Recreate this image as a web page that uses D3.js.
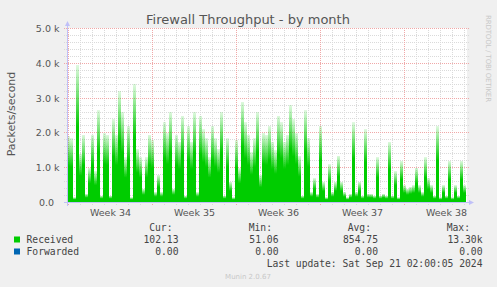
<!DOCTYPE html>
<html>
<head>
<meta charset="utf-8">
<script src="https://cdn.jsdelivr.net/npm/d3@7"></script>
<style>
body{margin:0;background:#f0f0f0;}
text{font-family:"DejaVu Sans",sans-serif;}
.mono{font-family:"DejaVu Sans Mono",monospace;}
</style>
</head>
<body>
<div id="chart"></div>
<script>
//variables
//received packets/second, one value every 6 hours starting Aug 18 21:00
var received = [1900, 1850, 150, 3950, 1400, 1950, 250, 1000, 1950, 900,
    2650, 200, 2000, 1950, 200, 2400, 1950, 3200, 2600, 1300,
    2200, 150, 3400, 1550, 1300, 400, 1300, 1950, 1800, 300,
    800, 300, 2300, 2000, 2600, 400, 1950, 1750, 2500, 200,
    2200, 1750, 2600, 300, 2500, 2100, 1850, 1300, 2200, 1850,
    1550, 2600, 200, 1850, 600, 150, 1800, 1000, 2900, 2300,
    1950, 1450, 1850, 2600, 800, 2000, 1950, 2200, 1750, 1500,
    2500, 2300, 1750, 1950, 2800, 2400, 2000, 1350, 200, 2650,
    1850, 300, 700, 250, 2200, 600, 150, 1100, 300, 600,
    1350, 600, 300, 150, 250, 2300, 300, 600, 200, 2100,
    250, 250, 200, 1300, 200, 250, 200, 1750, 200, 900,
    150, 1200, 500, 400, 450, 500, 1000, 500, 300, 1300,
    700, 500, 200, 2200, 150, 500, 200, 1200, 150, 500,
    200, 1200, 500];
var forwarded = [0, 0];
var sampleHours = 6;
var yTicks = [0, 1000, 2000, 3000, 4000, 5000];
var yTickLabels = ["0.0", "1.0 k", "2.0 k", "3.0 k", "4.0 k", "5.0 k"];
var weekLabels = ["Week 34", "Week 35", "Week 36", "Week 37", "Week 38"];
var legendNames = ["Received", "Forwarded"];
var legendColors = ["#00cc00", "#0066b3"];
var legendCur = ["102.13", "0.00"];
var legendMin = ["51.06", "0.00"];
var legendAvg = ["854.75", "0.00"];
var legendMax = ["13.30k", "0.00"];

var width = 497, height = 287;
var start = new Date(2024, 7, 18, 21), end = new Date(2024, 8, 21, 5);

var svg = d3.select("#chart").append("svg").attr("width", width).attr("height", height);
svg.append("rect").attr("width", width).attr("height", height).attr("fill", "#f0f0f0");
svg.append("rect").attr("x", 67).attr("y", 28).attr("width", 400).attr("height", 175).attr("fill", "#fff");

//scales
var x = d3.scaleTime().domain([start, end]).range([67, 467]);
var y = d3.scaleLinear().domain([0, 5000]).range([202.5, 28.5]);
function py(v){ return Math.round(y(v) - 0.5) + 0.5; }

//gradient for the spikes (tops fade out like rrdtool antialiasing)
var grad = svg.append("defs").append("linearGradient").attr("id", "fade")
    .attr("x1", 0).attr("y1", 1).attr("x2", 0).attr("y2", 0);
grad.append("stop").attr("offset", "0").attr("stop-color", "#00cc00");
grad.append("stop").attr("offset", "0.55").attr("stop-color", "#00cc00");
grad.append("stop").attr("offset", "1").attr("stop-color", "#00cc00").attr("stop-opacity", 0.12);

//grid
var grid = svg.append("g").attr("shape-rendering", "crispEdges");
var minorColor = "#dadada", majorColor = "#f0a8a8";
var minorY = d3.range(0, 5001, 200).filter(function(v){ return v % 1000 != 0; });
grid.selectAll(".hmin").data(minorY).enter().append("line")
    .attr("x1", 64).attr("x2", 469)
    .attr("y1", py).attr("y2", py)
    .attr("stroke", minorColor).attr("stroke-dasharray", "1,1");
var days = d3.timeDay.range(start, end).filter(function(d){ return d.getDay() != 1; });
grid.selectAll(".vmin").data(days).enter().append("line")
    .attr("x1", function(d){ return Math.round(x(d) - 0.5) + 0.5; })
    .attr("x2", function(d){ return Math.round(x(d) - 0.5) + 0.5; })
    .attr("y1", 28).attr("y2", 205)
    .attr("stroke", minorColor).attr("stroke-dasharray", "1,1");
grid.selectAll(".hmaj").data(yTicks.slice(1)).enter().append("line")
    .attr("x1", 64).attr("x2", 469)
    .attr("y1", py).attr("y2", py)
    .attr("stroke", majorColor).attr("stroke-dasharray", "1,1");
var mondays = d3.timeMonday.range(start, end);
grid.selectAll(".vmaj").data(mondays).enter().append("line")
    .attr("x1", function(d){ return Math.round(x(d) - 0.5) + 0.5; })
    .attr("x2", function(d){ return Math.round(x(d) - 0.5) + 0.5; })
    .attr("y1", 28).attr("y2", 206)
    .attr("stroke", majorColor).attr("stroke-dasharray", "1,1");

//received spikes
svg.append("g").attr("shape-rendering", "crispEdges")
    .selectAll("rect").data(received).enter().append("rect")
    .attr("x", function(d, i){ return x(d3.timeHour.offset(start, i * sampleHours)); })
    .attr("width", function(d, i){
        return x(d3.timeHour.offset(start, (i + 1) * sampleHours)) - x(d3.timeHour.offset(start, i * sampleHours));
    })
    .attr("y", function(d){ return y(d); })
    .attr("height", function(d){ return y(0) - y(d); })
    .attr("fill", "url(#fade)");

//forwarded line (all zero)
svg.append("path").datum(forwarded)
    .attr("d", d3.line()
        .x(function(d, i){ return i == 0 ? x(start) : x(end); })
        .y(function(d){ return py(d); }))
    .attr("stroke", "#0066b3").attr("fill", "none");

//axes
var axisColor = "#c0c0f8";
svg.append("line").attr("x1", 64).attr("x2", 470).attr("y1", 202.5).attr("y2", 202.5)
    .attr("stroke", axisColor).attr("shape-rendering", "crispEdges");
svg.append("path").attr("d", "M469,200L474,202.5L469,205Z").attr("fill", axisColor);
svg.append("line").attr("x1", 67.5).attr("x2", 67.5).attr("y1", 206).attr("y2", 25)
    .attr("stroke", axisColor).attr("shape-rendering", "crispEdges");
svg.append("path").attr("d", "M65,26L67.5,21L70,26Z").attr("fill", axisColor);

//y labels
svg.selectAll(".ylab").data(yTicks).enter().append("text")
    .attr("x", function(d){ return d == 0 ? 54 : 59.5; })
    .attr("y", function(d){ return py(d) + 3.5; })
    .attr("text-anchor", "end")
    .attr("font-size", "9.5px").attr("fill", "#555")
    .text(function(d, i){ return yTickLabels[i]; });

//week labels, centered on each week
svg.selectAll(".xlab").data(mondays).enter().append("text")
    .attr("x", function(d){ return x(d3.timeHour.offset(d, 84)); })
    .attr("y", 216)
    .attr("text-anchor", "middle")
    .attr("font-size", "9.5px").attr("fill", "#555")
    .text(function(d, i){ return weekLabels[i]; });

//titles
svg.append("text").attr("x", 248).attr("y", 24).attr("text-anchor", "middle")
    .attr("font-size", "13px").attr("fill", "#555").text("Firewall Throughput - by month");
svg.append("text").attr("transform", "translate(15,114) rotate(-90)")
    .attr("text-anchor", "middle").attr("font-size", "11px").attr("fill", "#555")
    .text("Packets/second");
svg.append("text").attr("transform", "translate(485.5,15) rotate(90)")
    .attr("font-size", "7px").attr("fill", "#c8c8c8").attr("textLength", 87)
    .text("RRDTOOL / TOBI OETIKER");

//legend
var mono = "9.7px";
var heads = [["Cur:", 172.5], ["Min:", 272], ["Avg:", 371], ["Max:", 470]];
heads.forEach(function(h){
    svg.append("text").attr("class", "mono").attr("x", h[1]).attr("y", 231)
        .attr("text-anchor", "end").attr("font-size", mono).attr("fill", "#444").text(h[0]);
});
legendNames.forEach(function(name, i){
    var ly = 243 + i * 12;
    svg.append("rect").attr("x", 14).attr("y", ly - 6.5).attr("width", 6).attr("height", 6)
        .attr("fill", legendColors[i]);
    svg.append("text").attr("class", "mono").attr("x", 26.5).attr("y", ly)
        .attr("font-size", mono).attr("fill", "#444").text(name);
    [[legendCur, 178.5], [legendMin, 278.5], [legendAvg, 378], [legendMax, 482.5]].forEach(function(c){
        svg.append("text").attr("class", "mono").attr("x", c[1]).attr("y", ly)
            .attr("text-anchor", "end").attr("font-size", mono).attr("fill", "#444").text(c[0][i]);
    });
});
svg.append("text").attr("class", "mono").attr("x", 482.5).attr("y", 267)
    .attr("text-anchor", "end").attr("font-size", mono).attr("fill", "#444")
    .text("Last update: Sat Sep 21 02:00:05 2024");
svg.append("text").attr("x", 248).attr("y", 278.5).attr("text-anchor", "middle")
    .attr("font-size", "7px").attr("fill", "#c8c8c8").text("Munin 2.0.67");
</script>
</body>
</html>
